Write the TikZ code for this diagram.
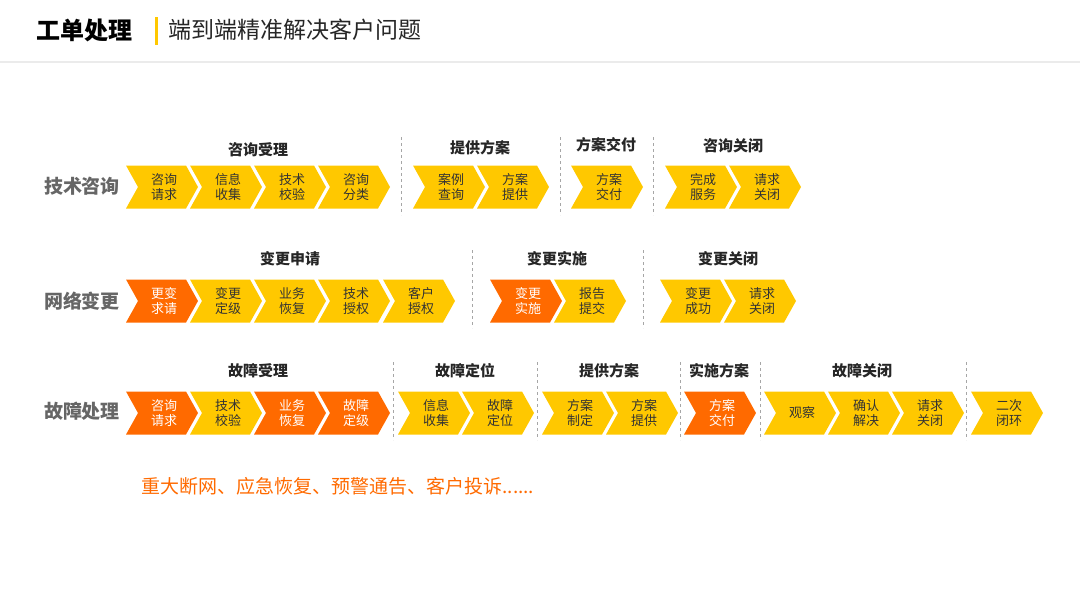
\documentclass[tikz,border=0pt]{standalone}
\usepackage{fontspec}
\setmainfont{Noto Sans CJK SC}
\usetikzlibrary{positioning}
\definecolor{ChevYellow}{HTML}{FFC800}
\definecolor{ChevOrange}{HTML}{FF6A00}
\definecolor{RowGray}{HTML}{666666}
\tikzset{
  chevtext/.style={font=\fontsize{13}{15}\selectfont, align=center, text=black!80},
  hot/.style={chevtext, text=white},
  cold/.style={chevtext},
  grouplabel/.style={font=\fontsize{15}{17}\selectfont\bfseries, text=black!85},
  rowlabel/.style={font=\fontsize{19}{21}\selectfont\bfseries, text=RowGray},
  sepline/.style={draw=black!35, dashed, line width=0.6pt}
}
% chevron: #1 left x, #2 centre y, #3 colour, #4 text style, #5 text, #6 name
\newcommand\chev[6]{%
  \fill[#3] (#1,#2-21.5) -- ++(60,0) -- ++(12,21.5) -- ++(-12,21.5) -- ++(-60,0) -- ++(12,-21.5) -- cycle;
  \node[#4] (#6) at (#1+38,#2) {#5};}
\newcommand\ychev[4]{\chev{#1}{#2}{ChevYellow}{cold}{#3}{#4}}
\newcommand\ochev[4]{\chev{#1}{#2}{ChevOrange}{hot}{#3}{#4}}
\begin{document}
\begin{tikzpicture}[x=1pt,y=-1pt]
  \useasboundingbox (0,0) rectangle (1080,608);
  % en-tete
  \node[anchor=west, font=\fontsize{24}{26}\selectfont\bfseries] (title) at (33,30) {工单处理};
  \fill[ChevYellow] (154.5,17) rectangle (157.5,45);
  \node[anchor=west, font=\fontsize{23}{26}\selectfont, text=black!85] (subtitle) at (165,30) {端到端精准解决客户问题};
  \fill[black!8] (0,61) rectangle (1080,63);

  % ligne 1
  \node[rowlabel] (row1) at (82,186) {技术咨询};
  \ychev{126}{187}{咨询\\请求}{a1}
  \ychev{190}{187}{信息\\收集}{a2}
  \ychev{254}{187}{技术\\校验}{a3}
  \ychev{318}{187}{咨询\\分类}{a4}
  \ychev{413}{187}{案例\\查询}{a5}
  \ychev{477}{187}{方案\\提供}{a6}
  \ychev{571}{187}{方案\\交付}{a7}
  \ychev{665}{187}{完成\\服务}{a8}
  \ychev{729}{187}{请求\\关闭}{a9}
  \node[grouplabel] (g11) at (258,150) {咨询受理};
  \node[grouplabel] (g12) at (480,148) {提供方案};
  \node[grouplabel] (g13) at (606,145) {方案交付};
  \node[grouplabel] (g14) at (733,146) {咨询关闭};
  \foreach \x in {401,560,653} \draw[sepline] (\x,137) -- (\x,215);

  % ligne 2
  \node[rowlabel] (row2) at (82,301) {网络变更};
  \ochev{126}{301}{更变\\求请}{b1}
  \ychev{190}{301}{变更\\定级}{b2}
  \ychev{254}{301}{业务\\恢复}{b3}
  \ychev{318}{301}{技术\\授权}{b4}
  \ychev{383}{301}{客户\\授权}{b5}
  \ochev{490}{301}{变更\\实施}{b6}
  \ychev{554}{301}{报告\\提交}{b7}
  \ychev{660}{301}{变更\\成功}{b8}
  \ychev{724}{301}{请求\\关闭}{b9}
  \node[grouplabel] (g21) at (290,259) {变更申请};
  \node[grouplabel] (g22) at (557,259) {变更实施};
  \node[grouplabel] (g23) at (728,259) {变更关闭};
  \foreach \x in {472,643} \draw[sepline] (\x,250) -- (\x,328);

  % ligne 3
  \node[rowlabel] (row3) at (82,411) {故障处理};
  \ochev{126}{413}{咨询\\请求}{c1}
  \ychev{190}{413}{技术\\校验}{c2}
  \ochev{254}{413}{业务\\恢复}{c3}
  \ochev{318}{413}{故障\\定级}{c4}
  \ychev{398}{413}{信息\\收集}{c5}
  \ychev{462}{413}{故障\\定位}{c6}
  \ychev{542}{413}{方案\\制定}{c7}
  \ychev{606}{413}{方案\\提供}{c8}
  \ochev{684}{413}{方案\\交付}{c9}
  \ychev{764}{413}{观察}{c10}
  \ychev{828}{413}{确认\\解决}{c11}
  \ychev{892}{413}{请求\\关闭}{c12}
  \ychev{971}{413}{二次\\闭环}{c13}
  \node[grouplabel] (g31) at (258,371) {故障受理};
  \node[grouplabel] (g32) at (465,371) {故障定位};
  \node[grouplabel] (g33) at (609,371) {提供方案};
  \node[grouplabel] (g34) at (719,371) {实施方案};
  \node[grouplabel] (g35) at (862,371) {故障关闭};
  \foreach \x in {393,537,680,760,966} \draw[sepline] (\x,362) -- (\x,440);

  % note
  \node[anchor=west, font=\fontsize{19}{21}\selectfont, text=ChevOrange] (note) at (138,486) {重大断网、应急恢复、预警通告、客户投诉......};
\end{tikzpicture}
\end{document}
